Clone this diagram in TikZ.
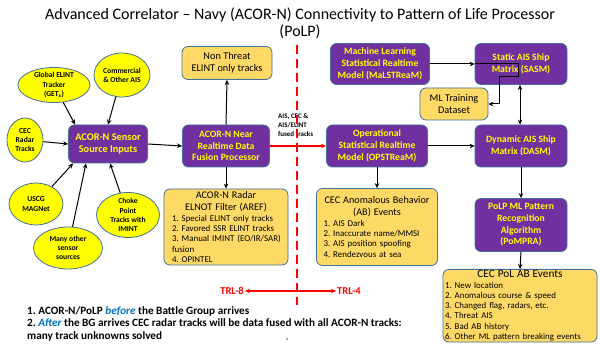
\documentclass[tikz,border=0pt]{standalone}
\usepackage{fontspec}
\setmainfont{Carlito}
\usetikzlibrary{shapes.geometric,arrows.meta,calc}
\definecolor{purp}{HTML}{7030A0}
\definecolor{ylw}{HTML}{FFFF00}
\definecolor{orng}{HTML}{FFD966}
\definecolor{bord}{HTML}{41719C}
\definecolor{ellf}{HTML}{FFFF00}
\definecolor{redc}{HTML}{FF0000}
\definecolor{bluec}{HTML}{0070C0}
\tikzset{
  pbox/.style={rectangle, rounded corners=6pt, fill=purp, draw=bord, line width=0.8pt,
    text=ylw, font=\bfseries\fontsize{9.7}{11.7}\selectfont, align=center, inner sep=2pt},
  obox/.style={rectangle, rounded corners=6pt, fill=orng, draw=bord, line width=0.8pt,
    text=black, font=\fontsize{10.3}{12.3}\selectfont, align=center, inner sep=2pt},
  ellnode/.style={ellipse, fill=ellf, draw=bord, line width=0.8pt, inner sep=0pt},
  elltext/.style={font=\bfseries\fontsize{7.6}{9.2}\selectfont, align=center, text=black},
  arr/.style={-{Stealth[length=5pt,width=4.5pt]}, line width=1pt, draw=black},
  darr/.style={{Stealth[length=5pt,width=4.5pt]}-{Stealth[length=5pt,width=4.5pt]}, line width=1pt, draw=black},
  rarr/.style={-{Stealth[length=5pt,width=4.5pt]}, line width=1.1pt, draw=redc},
  listtxt/.style={font=\fontsize{8.9}{10.3}\selectfont, align=left},
}
\begin{document}
\frenchspacing
\begin{tikzpicture}[x=1pt,y=-1pt]
\useasboundingbox (0,0) rectangle (600,344);
\fill[white] (0,0) rectangle (600,344);
\clip (0,0) rectangle (600,344);

% title
\node[font=\fontsize{16}{17}\selectfont, align=center] (title) at (300,23)
  {Advanced Correlator \textendash{} Navy (ACOR-N) Connectivity to Pattern of Life Processor\\(PoLP)};

% source ellipses
\node[ellnode, minimum width=72pt, minimum height=35pt,
  label={[elltext]center:Global ELINT\\Tracker\\(GET\textsubscript{x})}] (get) at (54,85) {};
\node[ellnode, minimum width=56pt, minimum height=44pt,
  label={[elltext]center:Commercial\\\& Other AIS}] (com) at (122,75) {};
\node[ellnode, minimum width=36pt, minimum height=44pt,
  label={[elltext]center:CEC\\Radar\\Tracks}] (cec) at (25,140) {};
\node[ellnode, minimum width=54pt, minimum height=42pt,
  label={[elltext]center:USCG\\MAGNet}] (usc) at (36,204) {};
\node[ellnode, minimum width=69pt, minimum height=42pt,
  label={[elltext]center:Many other\\sensor\\sources}] (many) at (68,248) {};
\node[ellnode, minimum width=63pt, minimum height=45pt,
  label={[elltext]center:Choke\\Point\\Tracks with\\IMINT}] (chk) at (128,215) {};

% main boxes
\node[pbox, minimum width=79pt, minimum height=38pt, font=\bfseries\fontsize{10.3}{11.7}\selectfont] (src) at (108,144) {ACOR-N Sensor\\Source Inputs};
\node[pbox, minimum width=87pt, minimum height=42pt] (fus) at (226,146) {ACOR-N Near\\Realtime Data\\Fusion Processor};
\node[obox, minimum width=90pt, minimum height=33pt] (nt) at (227,63) {Non Threat\\ELINT only tracks};
\node[obox, minimum width=124pt, minimum height=76pt, text width=108pt, listtxt, inner ysep=1pt] (aref) at (226,227)
  {{\centering\fontsize{10.2}{12.2}\selectfont ACOR-N Radar\\ELNOT Filter (AREF)\par}
   1. Special ELINT only tracks\\2. Favored SSR ELINT tracks\\\mbox{3. Manual IMINT (EO/IR/SAR)}\\fusion\\4. OPINTEL};

\node[pbox, minimum width=99pt, minimum height=41pt] (mal) at (380,64) {Machine Learning\\Statistical Realtime\\Model (MaLSTReaM)};
\node[obox, minimum width=68pt, minimum height=32pt] (mlt) at (454,104) {ML Training\\Dataset};
\node[pbox, minimum width=101pt, minimum height=42pt] (ops) at (377,146) {Operational\\Statistical Realtime\\Model (OPSTReaM)};
\node[obox, minimum width=121pt, minimum height=77pt, text width=107pt, listtxt, inner ysep=1pt] (ab) at (377,227)
  {{\centering\fontsize{10.2}{12}\selectfont \mbox{CEC Anomalous Behavior}\\(AB) Events\par}
   1. AIS Dark\\2. Inaccurate name/MMSI\\3. AIS position spoofing\\4. Rendezvous at sea};

\node[pbox, minimum width=92pt, minimum height=41pt] (sasm) at (521,64) {Static AIS Ship\\Matrix (SASM)};
\node[pbox, minimum width=92pt, minimum height=42pt] (dasm) at (521,146) {Dynamic AIS Ship\\Matrix (DASM)};
\node[pbox, minimum width=92pt, minimum height=53pt] (pom) at (521,225) {PoLP ML Pattern\\Recognition\\Algorithm\\(PoMPRA)};
\node[obox, anchor=north, minimum width=154pt, text width=150pt, listtxt, inner ysep=1pt] (pol) at (520,269)
  {{\centering\fontsize{11.3}{12.5}\selectfont CEC PoL AB Events\par}
   1. New location\\2. Anomalous course \& speed\\3. Changed flag, radars, etc.\\4. Threat AIS\\5. Bad AB history\\6. Other ML pattern breaking events\\};

% connector label
\node[font=\bfseries\fontsize{7}{9}\selectfont, align=left, anchor=west, inner sep=0pt] (lbl) at (278,125)
  {AIS, CEC \&\\AIS/ELINT\\fused tracks};

% red dashed divider
\coordinate (dtop) at (297,45);
\coordinate (dbot) at (297,305);
\draw[redc, line width=1.3pt, dash pattern=on 9pt off 5pt] (dtop) -- (dbot);

% TRL
\coordinate (trlc) at (297,291);
\node[font=\bfseries\fontsize{10.5}{12}\selectfont, text=redc, anchor=east, inner sep=1pt] (trl8) at (245,291) {TRL-8};
\node[font=\bfseries\fontsize{10.5}{12}\selectfont, text=redc, anchor=west, inner sep=1pt] (trl4) at (336,291) {TRL-4};
\draw[rarr] (trlc) -- (trl8.east);
\draw[rarr] (trlc) -- (trl4.west);

% notes
\node[anchor=north west, align=left, font=\bfseries\fontsize{11.2}{12.5}\selectfont, inner sep=0pt] (notes) at (27,306)
  {1. ACOR-N/PoLP \textcolor{bluec}{\itshape before} the Battle Group arrives\\
   2. \textcolor{bluec}{\itshape After} the BG arrives CEC radar tracks will be data fused with all ACOR-N tracks:\\
   many track unknowns solved};
\node[font=\fontsize{4}{5}\selectfont, inner sep=0pt] (pg) at (287,339) {4};

% source arrows
\draw[arr] (get) -- ($(src.north west)+(7,0)$);
\draw[arr] (com) -- (src.north);
\draw[arr] (cec) -- (src.west);
\draw[arr] (usc) -- ($(src.south west)+(5,0)$);
\draw[arr] (many) -- ($(src.south)+(-22,0)$);
\draw[arr] (chk) -- ($(src.south)+(2,0)$);

% flow arrows
\draw[arr] (src.east) -- (fus.west);
\draw[arr] (fus.north) -- (nt.south);
\draw[arr] (fus.south) -- (aref.north);
\draw[rarr] (fus.east) -- (ops.west);
\draw[arr] (mal.east) -- (sasm.west);
\draw[arr] (sasm.west) -- ($(sasm.west)+(44,0)$) -- ($(sasm.west)+(44,13)$) -- ($(sasm.west)+(25,13)$) |- (mlt.east);
\draw[darr] ($(sasm.south)+(-1,0)$) -- ($(dasm.north)+(-1,0)$);
\draw[arr] (ops.east) -- (dasm.west);
\draw[arr] (ops.south) -- (ab.north);
\draw[arr] (dasm.south) -- (pom.north);
\draw[arr] (pom.south) -- (pol.north);
\end{tikzpicture}
\end{document}
